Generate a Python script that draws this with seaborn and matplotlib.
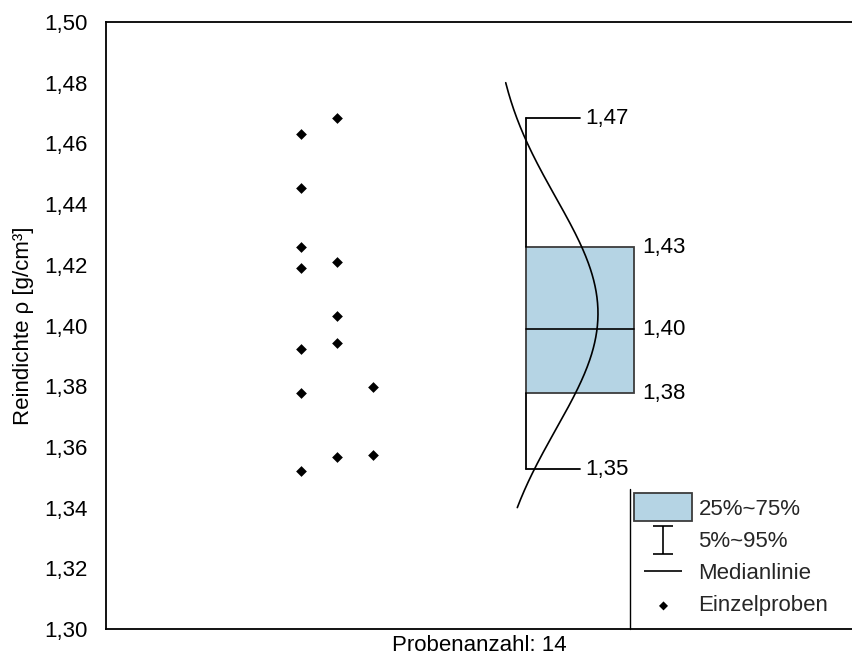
import numpy as np
import pandas as pd
import matplotlib
matplotlib.use("Agg")
import matplotlib.pyplot as plt
from matplotlib.patches import Rectangle, Patch
from matplotlib.lines import Line2D
from matplotlib.path import Path
import seaborn as sns

# ---- data ----
sample_values = [1.4630, 1.4452, 1.4258, 1.4190, 1.3923, 1.3778, 1.3522,
                 1.4685, 1.4208, 1.4031, 1.3941, 1.3566,
                 1.3798, 1.3572]
sample_column = [0, 0, 0, 0, 0, 0, 0,
                 1, 1, 1, 1, 1,
                 2, 2]
box_stats = {"p5": 1.3526, "q1": 1.3777, "median": 1.3987, "q3": 1.4258, "p95": 1.4683}
yticks = [1.30, 1.32, 1.34, 1.36, 1.38, 1.40, 1.42, 1.44, 1.46, 1.48, 1.50]
legend_labels = ["25%~75%", "5%~95%", "Medianlinie", "Einzelproben"]
xlabel = "Probenanzahl: 14"
ylabel = "Reindichte ρ [g/cm³]"

# ---- style ----
sns.set_theme(style="white")
plt.rcParams["font.family"] = ["Liberation Sans", "DejaVu Sans"]
FS = 16
box_color = "#b5d4e4"
edge_color = "#3c3c3c"

fig = plt.figure(figsize=(8.52, 6.63), dpi=100)
ax = fig.add_axes([106 / 852, 34 / 663, 746 / 852, 607 / 663])
ax.set_xlim(0, 10)
ax.set_ylim(1.30, 1.50)

# ---- individual samples ----
col_x0, col_step = 2.614, 0.483
df = pd.DataFrame({"value": sample_values,
                   "x": [col_x0 + c * col_step for c in sample_column]})
sns.scatterplot(data=df, x="x", y="value", marker="D", s=30, color="black",
                edgecolor="black", linewidth=0, ax=ax, zorder=4)

# ---- box with percentile whisker ----
bx_left, bx_right = 5.630, 7.078
bx_mid = (bx_left + bx_right) / 2
ax.add_patch(Rectangle((bx_left, box_stats["q1"]), bx_right - bx_left,
                       box_stats["q3"] - box_stats["q1"],
                       facecolor=box_color, edgecolor=edge_color, lw=1.3, zorder=2))
ax.plot([bx_left, bx_right], [box_stats["median"]] * 2, color="black", lw=1.2, zorder=3)
ax.plot([bx_left, bx_left], [box_stats["q3"], box_stats["p95"]], color="black", lw=1.3, zorder=3)
ax.plot([bx_left, bx_left], [box_stats["p5"], box_stats["q1"]], color="black", lw=1.3, zorder=3)
ax.plot([bx_left, bx_mid], [box_stats["p95"]] * 2, color="black", lw=1.3, zorder=3)
ax.plot([bx_left, bx_mid], [box_stats["p5"]] * 2, color="black", lw=1.3, zorder=3)

def fmt(v):
    return f"{v:.2f}".replace(".", ",")

for key in ["p95", "p5"]:
    ax.text(bx_mid + 0.07, box_stats[key], fmt(box_stats[key]), fontsize=FS,
            va="center", ha="left", color="black")
for key in ["q3", "median", "q1"]:
    ax.text(bx_right + 0.11, box_stats[key], fmt(box_stats[key]), fontsize=FS,
            va="center", ha="left", color="black")

# ---- normal distribution curve fitted to the samples ----
mu = np.mean(sample_values)
sd = np.std(sample_values, ddof=1)
yy = np.linspace(1.34, 1.48, 300)
dens = np.exp(-0.5 * ((yy - mu) / sd) ** 2)
base, amp = 5.161, 1.434
ax.plot(base + amp * dens, yy, color="black", lw=1.2, zorder=5)

# ---- axes styling ----
ax.set_yticks(yticks)
ax.set_yticklabels([fmt(t) for t in yticks], fontsize=FS)
ax.set_xticks([])
ax.tick_params(axis="y", length=0, pad=13, colors="black")
ax.set_xlabel(xlabel, fontsize=FS, labelpad=4, color="black")
ax.set_ylabel(ylabel, fontsize=FS, color="black")
ax.yaxis.set_label_coords((34 - 106) / 746, 0.5)
for side in ["left", "bottom", "top"]:
    ax.spines[side].set_color("black")
    ax.spines[side].set_linewidth(1.3)
ax.spines["right"].set_visible(False)

# ---- legend (marker paths slightly shifted down to align with text) ----
c_i = 0.148
ibeam = Path([(-0.37, 0.5 - c_i), (0.37, 0.5 - c_i), (0, 0.5 - c_i), (0, -0.5 - c_i),
              (-0.37, -0.5 - c_i), (0.37, -0.5 - c_i)],
             [Path.MOVETO, Path.LINETO, Path.MOVETO, Path.LINETO, Path.MOVETO, Path.LINETO])
c_m = 0.08
mline = Path([(-0.5, -c_m), (0.5, -c_m)], [Path.MOVETO, Path.LINETO])
c_d, h_d = 0.3, 0.25
diam = Path([(0, -c_d + h_d), (h_d, -c_d), (0, -c_d - h_d), (-h_d, -c_d), (0, -c_d + h_d)],
            [Path.MOVETO, Path.LINETO, Path.LINETO, Path.LINETO, Path.CLOSEPOLY])
handles = [
    Patch(facecolor=box_color, edgecolor=edge_color, lw=1.3),
    Line2D([], [], ls="none", marker=ibeam, markersize=25.2, markeredgewidth=1.2,
           color="black", markerfacecolor="none"),
    Line2D([], [], ls="none", marker=mline, markersize=27.4, markeredgewidth=1.2, color="black"),
    Line2D([], [], ls="none", marker=diam, markersize=14.3, markeredgewidth=0,
           color="black", markerfacecolor="black"),
]
leg = ax.legend(handles, legend_labels, loc="lower left",
                bbox_to_anchor=((634 - 106) / 746, 0.0193), frameon=False,
                fontsize=FS, handlelength=2.6, handleheight=1.56, labelspacing=0.18,
                handletextpad=0.3, borderaxespad=0, borderpad=0.0)
ax.plot([(630 - 106) / 746] * 2, [0, (629 - 489) / 607], transform=ax.transAxes,
        color="black", lw=1.0, clip_on=False, zorder=1)

fig.savefig("out.png", dpi=100)
